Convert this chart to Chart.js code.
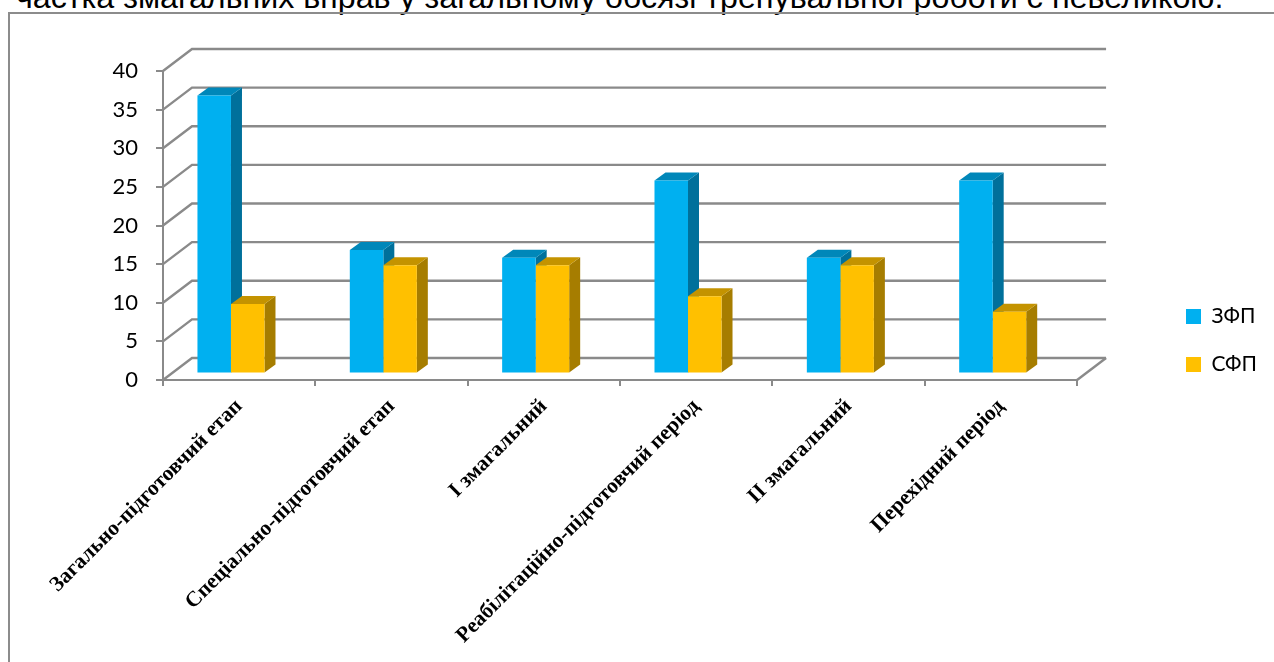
<!DOCTYPE html>
<html>
<head>
<meta charset="utf-8">
<script src="https://cdn.jsdelivr.net/npm/chart.js@4"></script>
<style>
    html, body { margin: 0; height: 100%; background: #fff; overflow: hidden; }
    #heading { position: absolute; left: 16px; top: -21px; font: 32.2px "Liberation Sans"; color: #000; white-space: nowrap; }
    #frame { position: absolute; left: 8px; top: 12px; width: 1280px; height: 670px; border: 2px solid #8c8c8c; }
    #grafico { position: absolute; left: 0; top: 0; }
</style>
</head>
<body>
<div id="heading">частка змагальних вправ у загальному обсязі тренувальної роботи є невеликою.</div>
<div id="frame"></div>
<canvas id="grafico" width="1274" height="662"></canvas>
<script>
const categorias = ['Загально-підготовчий етап', 'Спеціально-підготовчий етап', 'І змагальний', 'Реабілітаційно-підготовчий період', 'ІІ змагальний', 'Перехідний період'];
const zfp = [36, 16, 15, 25, 15, 25];
const sfp = [9, 14, 14, 10, 14, 8];
const ticksY = [0, 5, 10, 15, 20, 25, 30, 35, 40];

const cinza = '#8a8a8a';
// offset of the back wall and of the plane the bars stand on
const parede = { x: 29, y: -22 };
const planoBarras = { x: -8.2, y: -6.5 };
const prof = { x: 11, y: -8 };
const coresLado = ['#00709b', '#a67d00'];
const coresTopo = ['#0087b9', '#c49300'];

function poligono(ctx, pts, cor) {
    ctx.fillStyle = cor;
    ctx.beginPath();
    pts.forEach((p, i) => i ? ctx.lineTo(p[0], p[1]) : ctx.moveTo(p[0], p[1]));
    ctx.closePath();
    ctx.fill();
}

const falso3d = {
    id: 'falso3d',
    afterLayout(chart) {
        // legend sits away from the plot, like the original
        const lg = chart.legend;
        const w = lg.right - lg.left;
        lg.left = 1159;
        lg.right = lg.left + w;
        lg.top -= 26;
        lg.bottom -= 26;
    },
    beforeDatasetsDraw(chart) {
        const ctx = chart.ctx;
        const { left, right } = chart.chartArea;
        const y = chart.scales.y;
        ctx.save();
        ctx.strokeStyle = cinza;
        ctx.lineWidth = 2.4;
        ticksY.forEach(v => {
            const py = y.getPixelForValue(v);
            ctx.beginPath();
            ctx.moveTo(left, py);
            ctx.lineTo(left + parede.x, py + parede.y);
            ctx.lineTo(right + parede.x, py + parede.y);
            ctx.stroke();
        });
        const y0 = y.getPixelForValue(0);
        ctx.beginPath();
        ctx.moveTo(right, y0);
        ctx.lineTo(right + parede.x, y0 + parede.y);
        ctx.stroke();
        ctx.restore();

        ctx.save();
        ctx.translate(planoBarras.x, planoBarras.y);
        chart.data.datasets.forEach((ds, i) => {
            chart.getDatasetMeta(i).data.forEach(bar => {
                const l = bar.x - bar.width / 2, r = bar.x + bar.width / 2;
                poligono(ctx, [[r, bar.y], [r + prof.x, bar.y + prof.y], [r + prof.x, bar.base + prof.y], [r, bar.base]], coresLado[i]);
                poligono(ctx, [[l, bar.y], [l + prof.x, bar.y + prof.y], [r + prof.x, bar.y + prof.y], [r, bar.y]], coresTopo[i]);
            });
        });
    },
    afterDatasetsDraw(chart) {
        chart.ctx.restore();
    }
};

new Chart(document.querySelector('#grafico'), {
    type: 'bar',
    data: {
        labels: categorias,
        datasets: [
            { label: 'ЗФП', data: zfp, backgroundColor: '#00b0f0' },
            { label: 'СФП', data: sfp, backgroundColor: '#ffc000' }
        ]
    },
    options: {
        responsive: false,
        animation: false,
        categoryPercentage: 0.44,
        barPercentage: 1,
        layout: { padding: { top: 71, bottom: 0, left: 0, right: 89 } },
        plugins: {
            tooltip: { enabled: false },
            legend: {
                position: 'right',
                labels: {
                    boxWidth: 15,
                    boxHeight: 15,
                    padding: 27,
                    color: '#000',
                    font: { family: 'Lato, "Open Sans"', size: 21 }
                }
            }
        },
        scales: {
            x: {
                afterFit(s) { s.height = 282; },
                grid: { drawOnChartArea: false, color: cinza, lineWidth: 2, tickLength: 6 },
                border: { color: cinza, width: 2 },
                ticks: {
                    autoSkip: false,
                    minRotation: 45,
                    maxRotation: 45,
                    padding: 8,
                    color: '#000',
                    font: { family: '"Liberation Serif"', weight: 'bold', size: 21.5 }
                }
            },
            y: {
                min: 0,
                max: 40,
                afterFit(s) { s.width = 163; },
                afterBuildTicks(s) { s.ticks = ticksY.map(v => ({ value: v })); },
                grid: { drawOnChartArea: false, color: cinza, lineWidth: 2, tickLength: 7 },
                border: { color: cinza, width: 2 },
                ticks: {
                    padding: 18,
                    color: '#000',
                    font: { family: 'Lato, "Open Sans"', size: 22 }
                }
            }
        }
    },
    plugins: [falso3d]
});
</script>
</body>
</html>
